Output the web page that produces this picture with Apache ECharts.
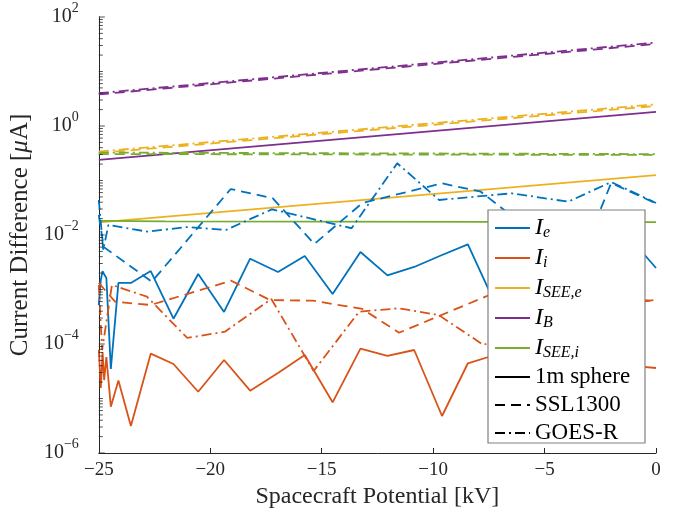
<!DOCTYPE html>
<html>
<head>
<meta charset="utf-8">
<script src="https://cdn.jsdelivr.net/npm/echarts@6/dist/echarts.min.js"></script>
<style>
  html, body { margin: 0; padding: 0; background: #fff; }
  #chart { width: 683px; height: 518px; }
</style>
</head>
<body>
<div id="chart"></div>
<script>
// x samples of the 1m sphere runs [kV]
var sphereX = [-25, -24.91, -24.83, -24.76, -24.66, -24.46, -24.12, -23.56, -22.67, -21.65,
  -20.54, -19.38, -18.21, -16.96, -15.76, -14.51, -13.26, -12.05, -10.85, -9.6,
  -8.44, -7.23, -6.03, -4.82, -3.62, -2.41, -1.21, 0];
var sphereIe = [5.2e-4, 1.5e-3, 2.18e-3, 1.9e-3, 1.63e-3, 3.48e-5, 1.32e-3, 1.32e-3, 2.18e-3, 2.91e-4,
  1.92e-3, 3.87e-4, 3.67e-3, 2.1e-3, 4.12e-3, 8.27e-4, 4.88e-3, 1.82e-3, 2.59e-3, 4.3e-3,
  6.75e-3, 5.65e-4, 3.5e-3, 1.6e-3, 4.8e-3, 1.1e-3, 9.2e-3, 2.48e-3];
var sphereIi = [7.76e-5, 1.56e-5, 7.13e-5, 2.18e-5, 5.77e-5, 7.08e-6, 2.14e-5, 3.13e-6, 6.64e-5, 4.3e-5,
  1.33e-5, 5.08e-5, 1.39e-5, 2.94e-5, 6.28e-5, 8.51e-6, 8.2e-5, 6.03e-5, 7.76e-5, 4.77e-6,
  4.43e-5, 6.28e-5, 1.0e-4, 2.6e-5, 9e-5, 1.5e-5, 4e-5, 3.63e-5];

var endX = [-25, 0];
var sphereIseeE = [0.017, 0.126];
var sphereIB = [0.238, 1.81];
var flatX = [-25, -22, -15, 0];
var sphereIseeI = [0.0182, 0.0178, 0.0176, 0.0173];

var sslIeX = [-25, -24.78, -22.62, -19.08, -17.19, -15.33, -13.17, -9.6, -7.86, -5.1, -2.9, -2.01, 0];
var sslIe = [2.33e-2, 6.03e-3, 1.39e-3, 6.98e-2, 4.71e-2, 6.84e-3, 3.87e-2, 8.89e-2, 6.23e-2, 8.1e-3, 1.14e-2, 9.0e-2, 3.8e-2];
var sslIiX = [-25, -24.27, -22.67, -19.06, -17.32, -15.4, -13.17, -11.53, -6.5, 0];
var sslIi = [1.32e-3, 5.97e-4, 5.2e-4, 1.45e-3, 6.41e-4, 6.23e-4, 4.39e-4, 1.61e-4, 1.16e-3, 6.1e-4];
var sslIseeE = [0.32, 2.33];
var sslIB = [3.8, 32];
var sslIseeI = [0.306, 0.294];

var goesIeX = [-25, -24.8, -24.57, -22.81, -21.07, -19.29, -17.23, -13.66, -11.61, -9.73, -6.47, -3.94, -2.01, 0];
var goesIe = [4.39e-2, 5.31e-3, 1.53e-2, 1.15e-2, 1.4e-2, 1.24e-2, 2.96e-2, 1.33e-2, 0.207, 4.39e-2, 5.82e-2, 4.08e-2, 9.38e-2, 3.87e-2];
var goesIiX = [-25, -24.85, -24.41, -22.84, -21.03, -19.34, -17.26, -15.36, -13.32, -11.53, -9.75, -7.74, -4.5, 0];
var goesIi = [1.21e-3, 7.76e-5, 1.21e-3, 7.38e-4, 1.29e-4, 1.68e-4, 6.7e-4, 3.2e-5, 3.92e-4, 4.52e-4, 3.4e-4, 9.59e-5, 3.5e-4, 6.5e-4];
var goesIseeE = [0.34, 2.5];
var goesIB = [4.0, 34];
var goesIseeI = [0.325, 0.305];

var legendNames = ['I_e', 'I_i', 'I_SEE,e', 'I_B', 'I_SEE,i', '1m sphere', 'SSL1300', 'GOES-R'];
var legendText = {
  'I_e': '{i|I}{s|e}',
  'I_i': '{i|I}{s|i}',
  'I_SEE,e': '{i|I}{s|SEE,e}',
  'I_B': '{i|I}{s|B}',
  'I_SEE,i': '{i|I}{s|SEE,i}'
};

var colors = {
  'I_e': '#0072BD',
  'I_i': '#D95319',
  'I_SEE,e': '#EDB120',
  'I_B': '#7E2F8E',
  'I_SEE,i': '#77AC30'
};
var DASH = [10, 6];
var DASHDOT = [10, 4, 2, 4];
var FONT = 'Liberation Serif';
var INK = '#262626';

function zip(xs, ys) {
  return xs.map(function (x, i) { return [x, ys[i]]; });
}

function mkLine(name, xs, ys, type) {
  return {
    name: name,
    type: 'line',
    data: zip(xs, ys),
    symbol: 'none',
    color: colors[name] || '#000',
    lineStyle: { width: 1.8, type: type },
    z: 3
  };
}

// y ticks on the left axis: long ones at labelled decades, short ones elsewhere
var majorTicks = [];
var minorTicks = [];
for (var k = -6; k <= 2; k++) {
  if (k % 2 === 0) majorTicks.push([-25, Math.pow(10, k)]);
  else minorTicks.push([-25, Math.pow(10, k)]);
  if (k < 2) {
    for (var m = 2; m <= 9; m++) minorTicks.push([-25, m * Math.pow(10, k)]);
  }
}

function tickSeries(data, len) {
  return {
    type: 'scatter',
    silent: true,
    clip: false,
    data: data,
    symbol: 'rect',
    symbolSize: [len, 1],
    symbolOffset: [len / 2, 0],
    itemStyle: { color: INK },
    z: 5
  };
}

var series = [
  mkLine('I_e', sphereX, sphereIe, 'solid'),
  mkLine('I_i', sphereX, sphereIi, 'solid'),
  mkLine('I_SEE,e', endX, sphereIseeE, 'solid'),
  mkLine('I_B', endX, sphereIB, 'solid'),
  mkLine('I_SEE,i', flatX, sphereIseeI, 'solid'),
  mkLine('I_e', sslIeX, sslIe, DASH),
  mkLine('I_i', sslIiX, sslIi, DASH),
  mkLine('I_SEE,e', endX, sslIseeE, DASH),
  mkLine('I_B', endX, sslIB, DASH),
  mkLine('I_SEE,i', endX, sslIseeI, DASH),
  mkLine('I_e', goesIeX, goesIe, DASHDOT),
  mkLine('I_i', goesIiX, goesIi, DASHDOT),
  mkLine('I_SEE,e', endX, goesIseeE, DASHDOT),
  mkLine('I_B', endX, goesIB, DASHDOT),
  mkLine('I_SEE,i', endX, goesIseeI, DASHDOT),
  mkLine('1m sphere', [], [], 'solid'),
  mkLine('SSL1300', [], [], DASH),
  mkLine('GOES-R', [], [], DASHDOT),
  tickSeries(majorTicks, 6),
  tickSeries(minorTicks, 4)
];

var chart = echarts.init(document.getElementById('chart'));
chart.setOption({
  animation: false,
  backgroundColor: '#fff',
  grid: { left: 95, right: 27, top: 17, bottom: 65 },
  xAxis: {
    type: 'value',
    min: -25,
    max: 0,
    interval: 5,
    name: 'Spacecraft Potential [kV]',
    nameLocation: 'middle',
    nameGap: 30,
    nameTextStyle: { fontFamily: FONT, fontSize: 24, color: INK },
    axisLine: { onZero: false, lineStyle: { color: INK, width: 1 } },
    axisTick: { inside: true, length: 5, lineStyle: { color: INK } },
    axisLabel: {
      fontFamily: FONT, fontSize: 19, color: INK, margin: 8,
      formatter: function (v) { return String(v).replace('-', '\u2212'); }
    },
    splitLine: { show: false }
  },
  yAxis: {
    type: 'log',
    logBase: 10,
    min: 1e-6,
    max: 1e2,
    splitNumber: 4,
    name: '{n|Current Difference [}{m|μ}{n|A]}',
    nameLocation: 'middle',
    nameGap: 59,
    nameTextStyle: {
      rich: {
        n: { fontFamily: FONT, fontSize: 25, color: INK },
        m: { fontFamily: FONT, fontSize: 25, fontStyle: 'italic', color: INK }
      }
    },
    axisLine: { show: true, onZero: false, lineStyle: { color: INK, width: 1 } },
    axisTick: { show: false },
    axisLabel: {
      margin: 20,
      formatter: function (v) {
        var lg = Math.log10(v);
        var e = Math.round(lg);
        if (Math.abs(lg - e) > 1e-6 || e % 2 !== 0) return '';
        return '{b|10}{s|' + String(e).replace('-', '\u2212') + '}';
      },
      rich: {
        b: { fontFamily: FONT, fontSize: 20, color: INK, lineHeight: 20, verticalAlign: 'middle' },
        s: { fontFamily: FONT, fontSize: 14, color: INK, lineHeight: 32, verticalAlign: 'top' }
      }
    },
    splitLine: { show: false }
  },
  graphic: {
    elements: [{
      type: 'rect',
      z: 100,
      shape: { x: 488, y: 210, width: 157, height: 233 },
      style: { fill: '#fff', stroke: '#808080', lineWidth: 1.2 }
    }]
  },
  legend: {
    z: 110,
    orient: 'vertical',
    left: 488,
    top: 210,
    padding: [5, 6, 5, 6],
    itemWidth: 35,
    itemHeight: 14,
    itemGap: 4,
    itemStyle: { opacity: 0 },
    data: legendNames,
    formatter: function (name) { return legendText[name] || name; },
    textStyle: {
      fontFamily: FONT,
      fontSize: 23,
      color: '#000',
      lineHeight: 24,
      rich: {
        i: { fontFamily: FONT, fontSize: 24, fontStyle: 'italic', color: '#000', lineHeight: 24, verticalAlign: 'middle' },
        s: { fontFamily: FONT, fontSize: 16, fontStyle: 'italic', color: '#000', lineHeight: 26, verticalAlign: 'bottom' }
      }
    }
  },
  series: series
});
</script>
</body>
</html>
